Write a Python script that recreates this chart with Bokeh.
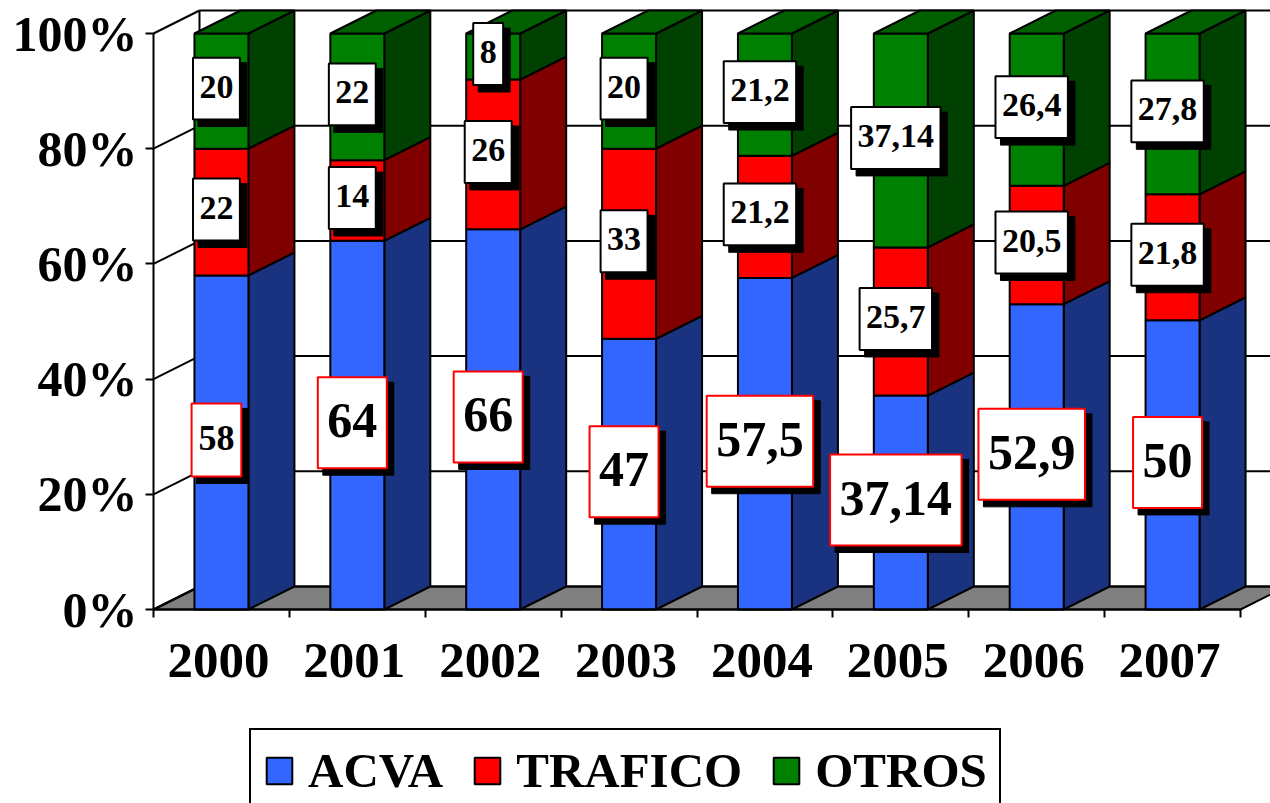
import numpy as np
from bokeh.plotting import figure
from bokeh.models import ColumnDataSource, FixedTicker, Legend, LegendItem, PrintfTickFormatter, Range1d
from bokeh.core.properties import value
from bokeh.embed import file_html
from bokeh.resources import INLINE

# ---- data -----------------------------------------------------------
years = ["2000", "2001", "2002", "2003", "2004", "2005", "2006", "2007"]
acva = [58, 64, 66, 47, 57.5, 37.14, 52.9, 50]
trafico = [22, 14, 26, 33, 21.2, 25.7, 20.5, 21.8]
otros = [20, 22, 8, 20, 21.2, 37.14, 26.4, 27.8]
y_ticks = [0, 20, 40, 60, 80, 100]

# ---- layout ---------------------------------------------------------
W, H = 1270, 803
AXIS_X, AXIS_Y = 153, 609   # pixel position of the axes' origin
PX_X = 135.875        # px per category
PX_Y = 5.76           # px per percent
DX = 46 / PX_X        # depth of the 3D box, data units
DY = 23 / PX_Y
BAR_W = 54 / PX_X
FONT = value("Liberation Serif")
SERIF = "Liberation Serif"

x0 = -0.5
x_start = x0 - AXIS_X / PX_X
x_end = x_start + W / PX_X
y_start = -(H - AXIS_Y) / PX_Y
y_end = AXIS_Y / PX_Y

p = figure(width=W, height=H, output_backend="svg", toolbar_location=None,
           x_range=Range1d(x_start, x_end), y_range=Range1d(y_start, y_end),
           min_border=0, outline_line_color=None,
           background_fill_color="white", border_fill_color="white")
p.grid.visible = False

n = len(years)
xc = np.arange(n, dtype=float)

# ---- axes -----------------------------------------------------------
LBL_SHIFT = 3 / PX_X
label_ticks = [round(float(i) - LBL_SHIFT, 4) for i in xc]
xa = p.xaxis[0]
xa.fixed_location = 0
xa.ticker = FixedTicker(ticks=label_ticks, minor_ticks=[float(i) - 0.5 for i in range(n + 1)])
xa.major_label_overrides = {t: y for t, y in zip(label_ticks, years)}
xa.major_tick_line_color = None
xa.minor_tick_out = 8
xa.minor_tick_in = 0
xa.minor_tick_line_color = "black"
xa.minor_tick_line_width = 2
xa.axis_line_color = "black"
xa.axis_line_width = 2
xa.bounds = (-0.5, n - 0.5)
xa.major_label_text_font = SERIF
xa.major_label_text_font_style = "bold"
xa.major_label_text_font_size = "51px"
xa.major_label_text_color = "black"
xa.major_label_standoff = 26

ya = p.yaxis[0]
ya.fixed_location = x0
ya.ticker = FixedTicker(ticks=y_ticks)
ya.formatter = PrintfTickFormatter(format="%d%%")
ya.minor_tick_line_color = None
ya.major_tick_out = 8
ya.major_tick_in = 0
ya.major_tick_line_color = "black"
ya.major_tick_line_width = 2
ya.axis_line_color = "black"
ya.axis_line_width = 2
ya.bounds = (0, 100)
ya.major_label_text_font = SERIF
ya.major_label_text_font_style = "bold"
ya.major_label_text_font_size = "50px"
ya.major_label_text_color = "black"
ya.major_label_standoff = 8

# ---- walls and floor ------------------------------------------------
yt = np.array(y_ticks, dtype=float)
p.patch([x0, n - 0.5, n - 0.5 + DX, x0 + DX], [0, 0, DY, DY],
        fill_color="#808080", line_color="black", line_width=2)
p.segment(x0=[x0 + DX] * len(yt), y0=yt + DY, x1=[x_end + 1] * len(yt), y1=yt + DY,
          line_color="black", line_width=2)
p.segment(x0=[x0] * len(yt), y0=yt, x1=[x0 + DX] * len(yt), y1=yt + DY,
          line_color="black", line_width=2)
p.segment(x0=[x0 + DX], y0=[DY], x1=[x0 + DX], y1=[100 + DY], line_color="black", line_width=2)

# ---- bars -----------------------------------------------------------
raw = np.array([acva, trafico, otros], dtype=float)
pct = raw / raw.sum(axis=0) * 100
bottoms = np.vstack([np.zeros(n), np.cumsum(pct, axis=0)[:-1]])
tops = bottoms + pct

front = ["#3366FF", "#FF0000", "#008000"]
side = ["#1A3380", "#800000", "#004000"]
names = ["ACVA", "TRAFICO", "OTROS"]
renderers = []
for s in range(3):
    right = xc + BAR_W / 2
    xs = [[r, r + DX, r + DX, r] for r in right]
    ys = [[b, b + DY, t + DY, t] for b, t in zip(bottoms[s], tops[s])]
    p.patches(xs, ys, fill_color=side[s], line_color="black", line_width=2)
    r = p.vbar(x=xc, width=BAR_W, bottom=bottoms[s], top=tops[s],
               fill_color=front[s], line_color="black", line_width=2)
    renderers.append(r)

# top cap
p.patches([[l, l + DX, l + BAR_W + DX, l + BAR_W] for l in xc - BAR_W / 2],
          [[100, 100 + DY, 100 + DY, 100] for _ in xc],
          fill_color="#006000", line_color="black", line_width=2)

# ---- value labels ---------------------------------------------------
def fmt(v):
    t = str(v).replace(".", ",")
    return t[:-2] if t.endswith(",0") else t

def text_w(s, fs):
    return sum(0.25 if c == "," else 0.5 for c in s) * fs

LABEL_DX = -5 / PX_X
LABEL_DY = 2.5 / PX_Y
SHADOW = 6
acva_fs = [36, 50, 50, 50, 50, 50, 50, 50]
for s in range(3):
    txt = [fmt(v) for v in raw[s].tolist()]
    fs = acva_fs if s == 0 else [34] * n
    w = [text_w(t, f) + 0.38 * f for t, f in zip(txt, fs)]
    h = [73 if f == 36 else 1.82 * f for f in fs]
    src = ColumnDataSource(dict(
        x=xc + LABEL_DX,
        y=(bottoms[s] + tops[s]) / 2 + LABEL_DY,
        sx=xc + LABEL_DX + SHADOW / PX_X,
        sy=(bottoms[s] + tops[s]) / 2 + LABEL_DY - SHADOW / PX_Y,
        w=w, h=h, sw=[v + 2 for v in w], sh=[v + 2 for v in h],
        t=txt, fs=[f"{f}px" for f in fs]))
    p.rect(x="sx", y="sy", width="sw", height="sh", width_units="screen", height_units="screen",
           fill_color="black", line_color="black", line_width=1, source=src)
    p.rect(x="x", y="y", width="w", height="h", width_units="screen", height_units="screen",
           fill_color="white", line_color="#FF0000" if s == 0 else "black",
           line_width=2, source=src)
    p.text(x="x", y="y", text="t", text_font=FONT, text_font_style="bold",
           text_font_size="fs", text_color="black", text_align="center",
           text_baseline="middle", y_offset=-2, source=src)

# ---- legend ---------------------------------------------------------
legend = Legend(items=[LegendItem(label=value(nm), renderers=[r]) for nm, r in zip(names, renderers)],
                orientation="horizontal", location=(249, -10), margin=0, padding=12,
                spacing=28, glyph_width=32, glyph_height=33, label_standoff=13,
                label_text_font=SERIF, label_text_font_style="bold",
                label_text_font_size="49px", label_text_color="black",
                label_text_line_height=1.0,
                border_line_color="black", border_line_width=2, border_line_alpha=1,
                background_fill_color="white", background_fill_alpha=1)
p.add_layout(legend)

open("out.html", "w").write(file_html(p, INLINE))
